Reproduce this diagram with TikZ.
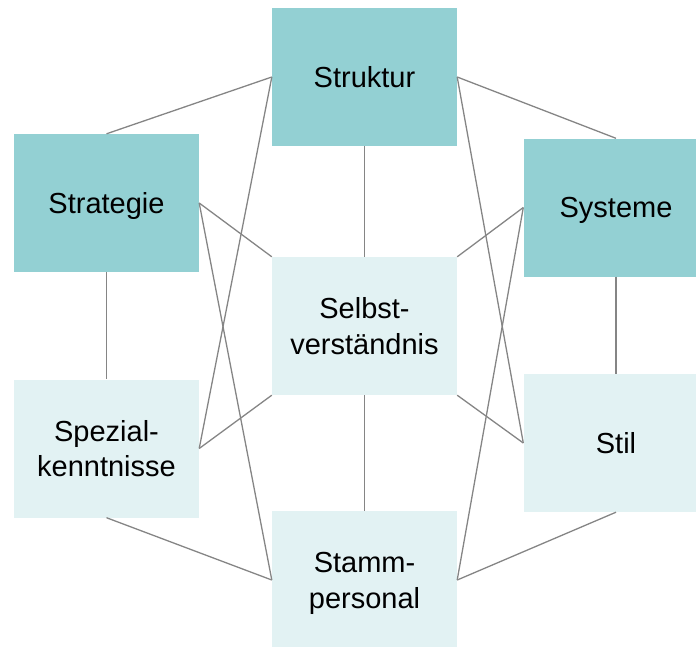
\documentclass[tikz,border=0pt]{standalone}
\usepackage{fontspec}
\setmainfont{Liberation Sans}
\definecolor{boxdark}{HTML}{93D0D3}
\definecolor{boxlight}{HTML}{E2F2F3}
\definecolor{linkgray}{HTML}{858585}
\begin{document}
\begin{tikzpicture}[x=1pt,y=-1pt,
  box/.style={minimum width=185pt, minimum height=138pt, inner sep=0pt,
    align=center, font=\fontsize{29}{35.5}\selectfont,
    text height=20.8pt, text depth=0pt},
  twolines/.style={text height=56.3pt},
  dark/.style={box, fill=boxdark},
  light/.style={box, fill=boxlight},
  link/.style={draw=linkgray, line width=1.3pt}]
\useasboundingbox (0,0) rectangle (696,646);
% the seven elements
\node[dark]  (struk)  at (364.5,77)  {Struktur};
\node[dark]  (strat)  at (106.5,203) {Strategie};
\node[dark]  (syst)   at (616,207.5) {Systeme};
\node[light, twolines] (selbst) at (364.5,326) {Selbst-\\verständnis};
\node[light, twolines] (spez)   at (106.5,448.5) {Spezial-\\kenntnisse};
\node[light] (stil)   at (616,443)   {Stil};
\node[light, twolines] (stamm)  at (364.5,580) {Stamm-\\personal};
% connections
\draw[link] (struk.west) -- (strat.north);
\draw[link] (struk.west) -- (spez.east);
\draw[link] (struk.south) -- (selbst.north);
\draw[link] (struk.east) -- (syst.north);
\draw[link] (struk.east) -- (stil.west);
\draw[link] (strat.east) -- (selbst.north west);
\draw[link] (strat.east) -- (stamm.west);
\draw[link] (strat.south) -- (spez.north);
\draw[link] (syst.west) -- (selbst.north east);
\draw[link] (syst.west) -- (stamm.east);
\draw[link] (syst.south) -- (stil.north);
\draw[link] (selbst.south west) -- (spez.east);
\draw[link] (selbst.south east) -- (stil.west);
\draw[link] (selbst.south) -- (stamm.north);
\draw[link] (spez.south) -- (stamm.west);
\draw[link] (stil.south) -- (stamm.east);
\end{tikzpicture}
\end{document}
